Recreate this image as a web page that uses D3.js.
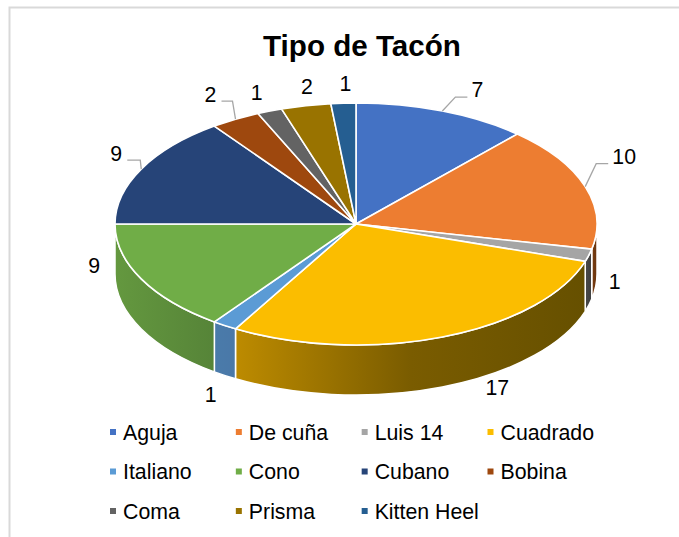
<!DOCTYPE html>
<html><head><meta charset="utf-8">
<script src="https://cdn.jsdelivr.net/npm/d3@7"></script>
<style>html,body{margin:0;padding:0;background:#fff}svg{display:block}text{font-family:"Liberation Sans",Arial,sans-serif;fill:#000}</style>
</head><body><div id="chart"></div>
<script>
const categories = ["Aguja","De cuña","Luis 14","Cuadrado","Italiano","Cono","Cubano","Bobina","Coma","Prisma","Kitten Heel"];
const values = [7,10,1,17,1,9,9,2,1,2,1];
const colors = ["#4472C4","#ED7D31","#A5A5A5","#FBBD00","#5B9BD5","#70AD47","#264478","#9E480E","#636363","#997300","#255E91"];
const wallStops = [null,["#7A3D10","#6A3510"],["#4A4A4A","#3E3E3E"],["#BD8B00","#7A5C00","#665000"],["#4A7BAA","#4A78A8"],["#64983F","#568438"],null,null,null,null,null];
const labelNudge = [[35,-22],[39,-30],[26,26],[55,50],[-14,69],[-47,-14],[-25,-16],[-25,-25],[-13,-19],[1,-19],[2,-20]];
const leaders = {0:[[13,-14],[25,-14]],1:[[11,-23],[23,-23]],6:[[-1,-9],[-14,-9]],7:[[-3,-18],[-14,-18]]};

const W=679,H=537,cx=356,cy=224,rx=241,ry=121,depth=50;
const svg=d3.select("#chart").append("svg").attr("width",W).attr("height",H);
const defs=svg.append("defs");

svg.append("path").attr("d",`M9.5,${H} V7.5 H${W}`).attr("fill","none").attr("stroke","#d9d9d9").attr("stroke-width",2);
svg.append("text").attr("x",362).attr("y",56).attr("text-anchor","middle").attr("font-size",29.6).attr("font-weight","bold").text("Tipo de Tacón");

const arcs=d3.pie().sort(null).startAngle(0).endAngle(2*Math.PI)(values);
const px=a=>cx+rx*Math.sin(a), py=a=>cy-ry*Math.cos(a);
const lo=Math.PI/2, hi=3*Math.PI/2;

// side walls (front half of the ellipse)
const walls=svg.append("g");
arcs.forEach((d,i)=>{
  const a0=Math.max(d.startAngle,lo), a1=Math.min(d.endAngle,hi);
  if(a0>=a1||!wallStops[i]) return;
  const id="wall"+i, x0=px(a0), x1=px(a1);
  const g=defs.append("linearGradient").attr("id",id).attr("gradientUnits","userSpaceOnUse")
    .attr("x1",Math.min(x0,x1)).attr("x2",Math.max(x0,x1)).attr("y1",0).attr("y2",0);
  wallStops[i].forEach((c,k,all)=>g.append("stop").attr("offset",k/(all.length-1)).attr("stop-color",c));
  const p=`M${x0},${py(a0)} A${rx},${ry} 0 0 1 ${x1},${py(a1)} L${x1},${py(a1)+depth} A${rx},${ry} 0 0 0 ${x0},${py(a0)+depth} Z`;
  walls.append("path").attr("d",p).attr("fill",`url(#${id})`).attr("stroke","#fff").attr("stroke-width",1.5).attr("stroke-linejoin","round");
});

// top face
const arc=d3.arc().innerRadius(0).outerRadius(rx);
svg.append("g").attr("transform",`translate(${cx},${cy}) scale(1,${ry/rx})`)
  .selectAll("path").data(arcs).join("path")
  .attr("d",arc).attr("fill",(d,i)=>colors[i])
  .attr("stroke","#fff").attr("stroke-width",1.6).attr("stroke-linejoin","round")
  .attr("vector-effect","non-scaling-stroke");

// data labels + leaders
const lab=svg.append("g");
arcs.forEach((d,i)=>{
  const m=(d.startAngle+d.endAngle)/2, ax=px(m), ay=py(m);
  if(leaders[i]){
    const pts=[[ax,ay],...leaders[i].map(o=>[ax+o[0],ay+o[1]])];
    lab.append("path").attr("d",d3.line()(pts)).attr("fill","none").attr("stroke","#A6A6A6").attr("stroke-width",1.3);
  }
  lab.append("text").attr("x",ax+labelNudge[i][0]).attr("y",ay+labelNudge[i][1]).attr("dy","0.36em")
    .attr("text-anchor","middle").attr("font-size",21.3).text(d.data);
});

// legend
const lx=d3.scalePoint().domain(d3.range(4)).range([110,487.5]);
const ly=d3.scalePoint().domain(d3.range(3)).range([432,511]);
const leg=svg.append("g");
categories.forEach((c,i)=>{
  const x=lx(i%4), y=ly(Math.floor(i/4));
  leg.append("rect").attr("x",x).attr("y",y-3).attr("width",6).attr("height",6).attr("fill",colors[i]);
  leg.append("text").attr("x",x+13).attr("y",y).attr("dy","0.36em").attr("font-size",21.3).text(c);
});
</script></body></html>
